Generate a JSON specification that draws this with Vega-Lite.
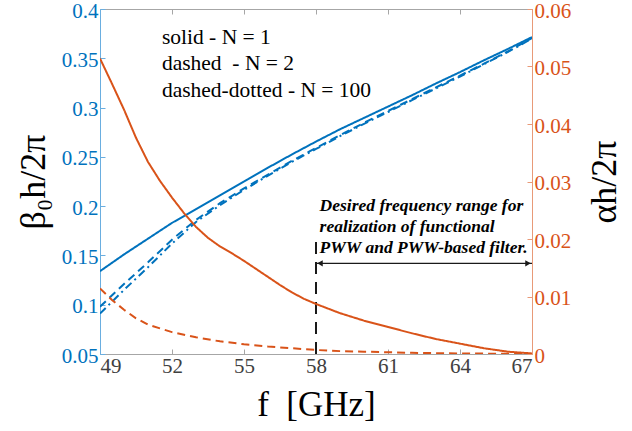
{
  "$schema": "https://vega.github.io/schema/vega-lite/v6.json",
  "width": 432,
  "height": 345,
  "autosize": "none",
  "padding": {"left": 100, "top": 9, "right": 100, "bottom": 77},
  "config": {
    "font": "Liberation Serif",
    "view": {"stroke": "#a6a6a6", "strokeWidth": 1},
    "axis": {"grid": false, "labelFont": "Liberation Serif", "titleFont": "Liberation Serif", "titleFontWeight": "normal"}
  },
  "datasets": {
    "beta": [
      {"f": 49, "v": 0.134, "N": "1"}, {"f": 50, "v": 0.151, "N": "1"}, {"f": 51, "v": 0.167, "N": "1"},
      {"f": 52, "v": 0.183, "N": "1"}, {"f": 53, "v": 0.197, "N": "1"}, {"f": 54, "v": 0.211, "N": "1"},
      {"f": 55, "v": 0.225, "N": "1"}, {"f": 56, "v": 0.239, "N": "1"}, {"f": 57, "v": 0.2525, "N": "1"},
      {"f": 58, "v": 0.2655, "N": "1"}, {"f": 59, "v": 0.278, "N": "1"}, {"f": 60, "v": 0.2895, "N": "1"},
      {"f": 61, "v": 0.301, "N": "1"}, {"f": 62, "v": 0.3125, "N": "1"}, {"f": 63, "v": 0.3245, "N": "1"},
      {"f": 64, "v": 0.336, "N": "1"}, {"f": 65, "v": 0.348, "N": "1"}, {"f": 66, "v": 0.3595, "N": "1"},
      {"f": 67, "v": 0.3715, "N": "1"},
      {"f": 49, "v": 0.098, "N": "2"}, {"f": 50, "v": 0.121, "N": "2"}, {"f": 51, "v": 0.143, "N": "2"},
      {"f": 52, "v": 0.166, "N": "2"}, {"f": 53, "v": 0.186, "N": "2"}, {"f": 54, "v": 0.203, "N": "2"},
      {"f": 55, "v": 0.218, "N": "2"}, {"f": 56, "v": 0.232, "N": "2"}, {"f": 57, "v": 0.246, "N": "2"},
      {"f": 58, "v": 0.259, "N": "2"}, {"f": 59, "v": 0.272, "N": "2"}, {"f": 60, "v": 0.2845, "N": "2"},
      {"f": 61, "v": 0.2965, "N": "2"}, {"f": 62, "v": 0.3085, "N": "2"}, {"f": 63, "v": 0.3205, "N": "2"},
      {"f": 64, "v": 0.3325, "N": "2"}, {"f": 65, "v": 0.3445, "N": "2"}, {"f": 66, "v": 0.357, "N": "2"},
      {"f": 67, "v": 0.3705, "N": "2"},
      {"f": 49, "v": 0.091, "N": "100"}, {"f": 50, "v": 0.115, "N": "100"}, {"f": 51, "v": 0.138, "N": "100"},
      {"f": 52, "v": 0.162, "N": "100"}, {"f": 53, "v": 0.184, "N": "100"}, {"f": 54, "v": 0.201, "N": "100"},
      {"f": 55, "v": 0.2165, "N": "100"}, {"f": 56, "v": 0.231, "N": "100"}, {"f": 57, "v": 0.245, "N": "100"},
      {"f": 58, "v": 0.258, "N": "100"}, {"f": 59, "v": 0.271, "N": "100"}, {"f": 60, "v": 0.2835, "N": "100"},
      {"f": 61, "v": 0.2955, "N": "100"}, {"f": 62, "v": 0.3075, "N": "100"}, {"f": 63, "v": 0.3195, "N": "100"},
      {"f": 64, "v": 0.3315, "N": "100"}, {"f": 65, "v": 0.344, "N": "100"}, {"f": 66, "v": 0.3565, "N": "100"},
      {"f": 67, "v": 0.370, "N": "100"}
    ],
    "alpha": [
      {"f": 49, "v": 0.0514, "N": "1"}, {"f": 49.5, "v": 0.047, "N": "1"}, {"f": 50, "v": 0.0425, "N": "1"},
      {"f": 50.5, "v": 0.0376, "N": "1"}, {"f": 51, "v": 0.0334, "N": "1"}, {"f": 51.5, "v": 0.0301, "N": "1"},
      {"f": 52, "v": 0.0272, "N": "1"}, {"f": 52.5, "v": 0.0245, "N": "1"}, {"f": 53, "v": 0.0221, "N": "1"},
      {"f": 53.5, "v": 0.0202, "N": "1"}, {"f": 54, "v": 0.0187, "N": "1"}, {"f": 54.5, "v": 0.0175, "N": "1"},
      {"f": 55, "v": 0.0162, "N": "1"}, {"f": 55.5, "v": 0.0148, "N": "1"}, {"f": 56, "v": 0.0134, "N": "1"},
      {"f": 56.5, "v": 0.012, "N": "1"}, {"f": 57, "v": 0.0107, "N": "1"}, {"f": 57.5, "v": 0.0096, "N": "1"},
      {"f": 58, "v": 0.0087, "N": "1"}, {"f": 59, "v": 0.0071, "N": "1"}, {"f": 60, "v": 0.0058, "N": "1"},
      {"f": 61, "v": 0.0047, "N": "1"}, {"f": 62, "v": 0.0036, "N": "1"}, {"f": 63, "v": 0.0026, "N": "1"},
      {"f": 64, "v": 0.0018, "N": "1"}, {"f": 65, "v": 0.001, "N": "1"}, {"f": 66, "v": 0.0004, "N": "1"},
      {"f": 67, "v": 0.0001, "N": "1"},
      {"f": 49, "v": 0.0114, "N": "2"}, {"f": 49.5, "v": 0.0094, "N": "2"}, {"f": 50, "v": 0.0077, "N": "2"},
      {"f": 50.5, "v": 0.0062, "N": "2"}, {"f": 51, "v": 0.0051, "N": "2"}, {"f": 52, "v": 0.0038, "N": "2"},
      {"f": 53, "v": 0.0029, "N": "2"}, {"f": 54, "v": 0.0022, "N": "2"}, {"f": 55, "v": 0.0017, "N": "2"},
      {"f": 56, "v": 0.0013, "N": "2"}, {"f": 57, "v": 0.001, "N": "2"}, {"f": 58, "v": 0.0007, "N": "2"},
      {"f": 59, "v": 0.0005, "N": "2"}, {"f": 60, "v": 0.0004, "N": "2"}, {"f": 61, "v": 0.0003, "N": "2"},
      {"f": 62, "v": 0.0002, "N": "2"}, {"f": 64, "v": 0.0001, "N": "2"}, {"f": 67, "v": 0.0, "N": "2"}
    ],
    "legendText": [
      {"f": 51.58, "v": 0.371, "label": "solid - N = 1"},
      {"f": 51.58, "v": 0.344, "label": "dashed\u00a0 - N = 2"},
      {"f": 51.58, "v": 0.317, "label": "dashed-dotted - N = 100"}
    ],
    "noteText": [
      {"f": 58.15, "v": 0.2, "label": "Desired frequency range for"},
      {"f": 58.15, "v": 0.179, "label": "realization of functional"},
      {"f": 58.15, "v": 0.158, "label": "PWW and PWW-based filter."}
    ],
    "vline": [{"f": 58, "v": 0.05, "v2": 0.168}],
    "arrow": [{"f": 58, "f2": 67, "v": 0.142}],
    "heads": [{"f": 58, "v": 0.142, "side": "L"}, {"f": 67, "v": 0.142, "side": "R"}]
  },
  "layer": [
    {
      "layer": [
        {
          "data": {"name": "beta"},
          "mark": {"type": "line", "strokeWidth": 2, "color": "#0072BD", "clip": true},
          "encoding": {
            "x": {"field": "f", "type": "quantitative",
              "scale": {"domain": [49, 67], "nice": false, "zero": false},
              "axis": {"orient": "bottom", "values": [49, 52, 55, 58, 61, 64, 67], "title": "f\u00a0\u00a0[GHz]",
                "titleFont": "Liberation Serif", "labelFont": "Liberation Serif",
                "titleFontSize": 35, "titleColor": "#000000", "titlePadding": 11,
                "labelFontSize": 21, "labelColor": "#404040", "labelPadding": 6,
                "domainColor": "#a6a6a6", "tickColor": "#a6a6a6", "tickSize": -5}},
            "y": {"field": "v", "type": "quantitative",
              "scale": {"domain": [0.05, 0.4], "nice": false, "zero": false},
              "axis": {"orient": "left", "values": [0.05, 0.1, 0.15, 0.2, 0.25, 0.3, 0.35, 0.4], "format": "~f",
                "titleFont": "Liberation Serif", "labelFont": "Liberation Serif",
                "title": "β₀h/2π", "titleFontSize": 36, "titleColor": "#000000", "titlePadding": 9,
                "labelFontSize": 21, "labelColor": "#0072BD", "labelPadding": 7, "labelOffset": 2,
                "domainColor": "#6aaee0", "tickColor": "#6aaee0", "tickSize": -5}},
            "strokeDash": {"field": "N", "type": "nominal",
              "scale": {"domain": ["1", "2", "100"], "range": [[1, 0], [8, 5], [8, 4, 2, 4]]}, "legend": null},
            "detail": {"field": "N"}
          }
        },
        {
          "data": {"name": "vline"},
          "mark": {"type": "rule", "color": "#1a1a1a", "strokeWidth": 2, "strokeDash": [12, 8]},
          "encoding": {
            "x": {"field": "f", "type": "quantitative"},
            "y": {"field": "v", "type": "quantitative"},
            "y2": {"field": "v2"}
          }
        },
        {
          "data": {"name": "arrow"},
          "mark": {"type": "rule", "color": "#1a1a1a", "strokeWidth": 1.3},
          "encoding": {
            "x": {"field": "f", "type": "quantitative"},
            "x2": {"field": "f2"},
            "y": {"field": "v", "type": "quantitative"}
          }
        },
        {
          "data": {"name": "heads"},
          "transform": [{"filter": "datum.side == 'L'"}],
          "mark": {"type": "point", "shape": "triangle-left", "filled": true, "color": "#1a1a1a", "size": 40, "opacity": 1, "xOffset": 4},
          "encoding": {
            "x": {"field": "f", "type": "quantitative"},
            "y": {"field": "v", "type": "quantitative"}
          }
        },
        {
          "data": {"name": "heads"},
          "transform": [{"filter": "datum.side == 'R'"}],
          "mark": {"type": "point", "shape": "triangle-right", "filled": true, "color": "#1a1a1a", "size": 40, "opacity": 1, "xOffset": -4},
          "encoding": {
            "x": {"field": "f", "type": "quantitative"},
            "y": {"field": "v", "type": "quantitative"}
          }
        },
        {
          "data": {"name": "legendText"},
          "mark": {"type": "text", "align": "left", "baseline": "middle", "fontSize": 21.5, "font": "Liberation Serif", "color": "#000000"},
          "encoding": {
            "x": {"field": "f", "type": "quantitative"},
            "y": {"field": "v", "type": "quantitative"},
            "text": {"field": "label"}
          }
        },
        {
          "data": {"name": "noteText"},
          "mark": {"type": "text", "align": "left", "baseline": "middle", "fontSize": 17.5, "font": "Liberation Serif", "fontStyle": "italic", "fontWeight": "bold", "color": "#000000"},
          "encoding": {
            "x": {"field": "f", "type": "quantitative"},
            "y": {"field": "v", "type": "quantitative"},
            "text": {"field": "label"}
          }
        }
      ]
    },
    {
      "data": {"name": "alpha"},
      "mark": {"type": "line", "strokeWidth": 2, "color": "#D95319", "clip": true},
      "encoding": {
        "x": {"field": "f", "type": "quantitative",
          "axis": {"orient": "top", "values": [49, 52, 55, 58, 61, 64, 67], "labels": false, "title": null,
            "domain": false, "tickColor": "#a6a6a6", "tickSize": -5}},
        "y": {"field": "v", "type": "quantitative",
          "scale": {"domain": [0, 0.06], "nice": false, "zero": false},
          "axis": {"orient": "right", "values": [0, 0.01, 0.02, 0.03, 0.04, 0.05, 0.06], "format": "~f",
            "titleFont": "Liberation Serif", "labelFont": "Liberation Serif",
            "title": "αh/2π", "titleFontSize": 36, "titleColor": "#000000", "titlePadding": 53, "titleAngle": -90,
            "labelFontSize": 21, "labelColor": "#D95319", "labelPadding": 7, "labelOffset": 2,
            "domainColor": "#e89a78", "tickColor": "#e89a78", "tickSize": -5}},
        "strokeDash": {"field": "N", "type": "nominal",
          "scale": {"domain": ["1", "2"], "range": [[1, 0], [8, 5]]}, "legend": null},
        "detail": {"field": "N"}
      }
    }
  ],
  "resolve": {"scale": {"y": "independent", "strokeDash": "independent"}, "axis": {"x": "independent"}}
}
